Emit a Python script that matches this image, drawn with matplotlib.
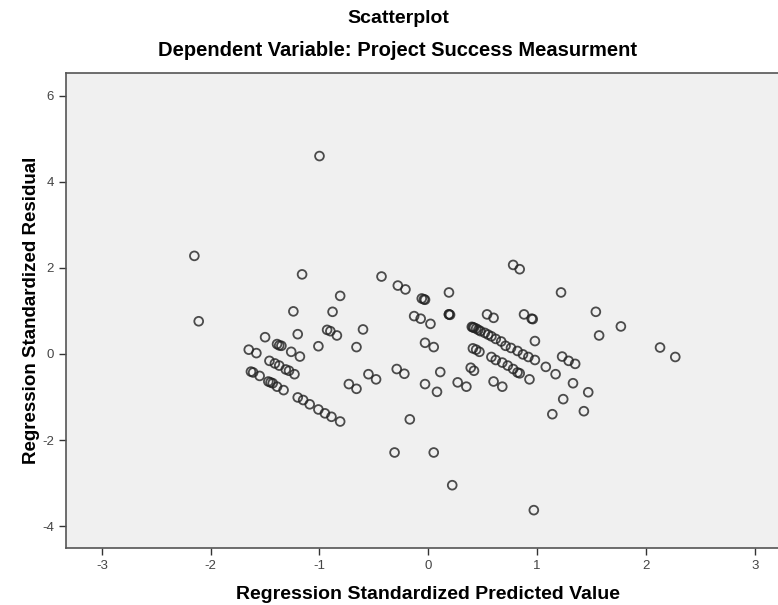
import matplotlib.pyplot as plt

# Regression standardized predicted values (x) and residuals (y)
pred_values = [
    -1.00, -2.15, -2.11, -1.16, -0.81, -1.24, -0.88, -0.60, -0.93, -0.90,
    -0.84, -1.20, -1.50, -1.01, -0.66, -1.65, -1.58, -1.39, -1.37, -1.35,
    -1.26, -1.18, -1.46, -1.41, -1.37, -1.31, -1.28, -1.23, -1.63, -1.61,
    -1.55, -1.47, -1.45, -1.43, -1.39, -1.33, -1.20, -1.15, -1.09, -1.01,
    -0.95, -0.89, -0.81, -0.73, -0.66, -0.55, -0.48, -0.43, -0.28, -0.21,
    -0.06, -0.04, -0.03, 0.19, 0.78, 0.84, 1.22, 0.19, 0.19, 0.20,
    -0.13, -0.07, 0.02, -0.03, 0.05, 0.54, 0.60, 0.88, 0.95, 0.96,
    0.98,
    0.40, 0.41, 0.42, 0.44, 0.46, 0.48, 0.52, 0.55, 0.58, 0.62,
    0.67, 0.71, 0.76, 0.82, 0.87, 0.92, 0.98, 1.08, 1.17,
    0.41, 0.44, 0.47, 0.58, 0.62, 0.68, 0.73, 0.78, 0.82, 0.84, 0.93,
    0.39, 0.42, 0.60, 0.68, 1.14, 0.11, 0.27, 0.35, -0.03, 0.08,
    -0.29, -0.22, -0.17, 1.54, 1.77, 1.57, 2.13, 2.27, 1.23, 1.29,
    1.35, 1.33, 1.47, 1.24, 1.43, -0.31, 0.05, 0.22, 0.97,
]
resid_values = [
    4.60, 2.28, 0.76, 1.85, 1.35, 0.99, 0.98, 0.57, 0.56, 0.53,
    0.43, 0.46, 0.39, 0.18, 0.16, 0.10, 0.02, 0.23, 0.20, 0.19,
    0.05, -0.06, -0.16, -0.22, -0.27, -0.36, -0.39, -0.47, -0.41, -0.43,
    -0.51, -0.64, -0.66, -0.68, -0.76, -0.84, -1.01, -1.07, -1.17, -1.29,
    -1.38, -1.46, -1.57, -0.70, -0.81, -0.47, -0.59, 1.80, 1.59, 1.50,
    1.29, 1.27, 1.26, 1.43, 2.07, 1.97, 1.43, 0.92, 0.92, 0.91,
    0.88, 0.82, 0.70, 0.26, 0.16, 0.92, 0.84, 0.92, 0.82, 0.81,
    0.30,
    0.63, 0.62, 0.61, 0.59, 0.56, 0.53, 0.49, 0.45, 0.41, 0.35,
    0.29, 0.19, 0.14, 0.07, -0.01, -0.07, -0.14, -0.30, -0.47,
    0.13, 0.10, 0.05, -0.07, -0.14, -0.20, -0.27, -0.35, -0.43, -0.45, -0.59,
    -0.32, -0.39, -0.64, -0.76, -1.40, -0.42, -0.66, -0.76, -0.70, -0.88,
    -0.35, -0.46, -1.52, 0.98, 0.64, 0.43, 0.15, -0.07, -0.06, -0.16,
    -0.23, -0.68, -0.89, -1.05, -1.33, -2.29, -2.29, -3.05, -3.63,
]

x_ticks = [-3, -2, -1, 0, 1, 2, 3]
y_ticks = [-4, -2, 0, 2, 4, 6]

plt.rcParams['font.family'] = ['Liberation Sans', 'DejaVu Sans']
plt.rcParams['axes.unicode_minus'] = False

fig = plt.figure(figsize=(7.78, 6.05), dpi=100)
# axes run past the right edge of the picture, as in the original
ax = fig.add_axes([0.0848, 0.0942, 0.9314, 0.7851])
ax.set_facecolor('#f0f0f0')

ax.scatter(pred_values, resid_values, s=40, facecolors='none',
           edgecolors='#222222', linewidths=1.3, alpha=0.8, zorder=3)

ax.set_xlim(-3.33, 3.33)
ax.set_ylim(-4.51, 6.53)
ax.set_xticks(x_ticks)
ax.set_yticks(y_ticks)
ax.tick_params(direction='out', length=5, width=1, colors='#333333',
               labelsize=9.5, labelcolor='#444444')

for side in ['left', 'bottom', 'top', 'right']:
    ax.spines[side].set_color('#555555')
    ax.spines[side].set_linewidth(1.2)

ax.set_xlabel('Regression Standardized Predicted Value', fontsize=14,
              fontweight='bold', labelpad=10)
ax.set_ylabel('Regression Standardized Residual', fontsize=13.5,
              fontweight='bold', labelpad=2)

fig.text(0.512, 0.970, 'Scatterplot', ha='center', va='center',
         fontsize=14, fontweight='bold')
fig.text(0.511, 0.917, 'Dependent Variable: Project Success Measurment',
         ha='center', va='center', fontsize=14.5, fontweight='bold')

plt.savefig('out.png', dpi=100)
